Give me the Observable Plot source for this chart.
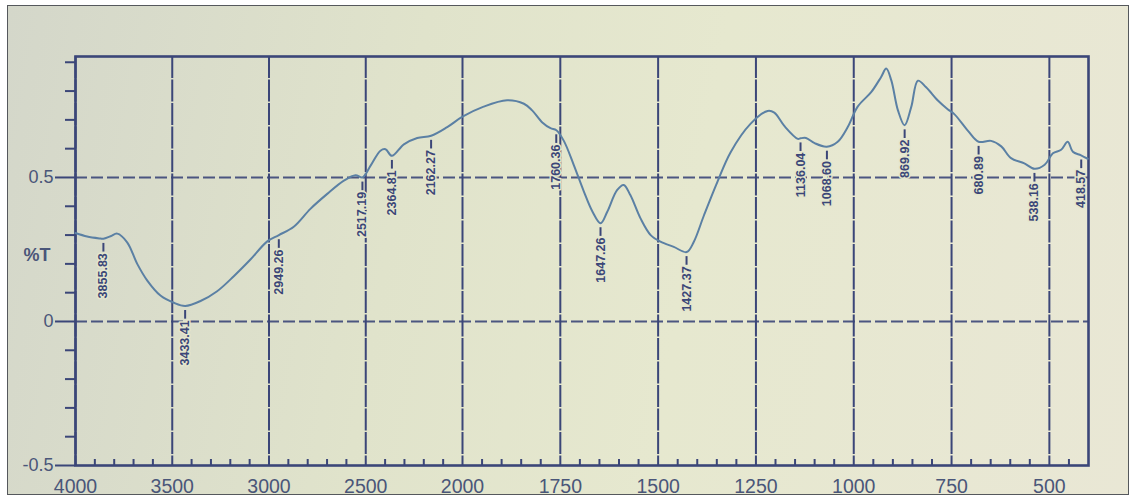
<!DOCTYPE html>
<html><head><meta charset="utf-8">
<script src="https://cdn.jsdelivr.net/npm/d3@7"></script>
<script src="https://cdn.jsdelivr.net/npm/@observablehq/plot@0.6"></script>
<style>
html,body{margin:0;padding:0;background:#fff;width:1134px;height:496px;overflow:hidden;}
#paper{position:absolute;left:7px;top:5px;width:1120px;height:488px;border:1.5px solid #55585c;
  background:linear-gradient(100deg,#d4d7ca 0%,#e0e3cb 35%,#e6e8cf 60%,#e9e7d5 100%);}
#chart{position:absolute;left:0;top:0;}
</style></head><body><div id="paper"></div><div id="chart"></div>
<script>
// Wavenumber (cm-1) and transmittance (%T)
const wavenumbers = [4000,3940,3871,3856,3819,3784,3733,3681,3629,3561,3492,3433,3354,3268,3182,3096,3009,2949,2872,2786,2699,2613,2553,2517,2475,2424,2398,2365,2303,2234,2162,2079,2000,
  1946,1886,1843,1822,1796,1775,1760,1741,1716,1690,1668,1647,1630,1605,1588,1571,1545,1519,1494,1460,1427,1409,1383,1349,1315,1264,1220,1203,1177,1143,1136,1122,1100,1069,1041,1015,
  990,955,930,917,904,887,870,853,836,815,785,760,743,708,681,649,623,598,564,538,512,491,470,453,440,419,402];
const transmittance = [0.307,0.295,0.288,0.287,0.296,0.305,0.275,0.200,0.142,0.090,0.065,0.054,0.071,0.105,0.157,0.215,0.278,0.300,0.329,0.391,0.443,0.489,0.508,0.500,0.541,0.593,0.598,0.575,0.615,0.637,0.645,0.675,0.711,
  0.746,0.768,0.756,0.733,0.691,0.671,0.664,0.627,0.545,0.452,0.382,0.341,0.381,0.456,0.474,0.439,0.358,0.300,0.277,0.259,0.241,0.276,0.368,0.483,0.587,0.686,0.731,0.725,0.678,0.634,0.636,0.637,0.619,0.607,0.624,0.676,
  0.746,0.797,0.849,0.878,0.837,0.733,0.681,0.745,0.836,0.813,0.767,0.737,0.720,0.662,0.624,0.627,0.608,0.567,0.549,0.530,0.544,0.584,0.596,0.624,0.589,0.577,0.565];
// Peak annotations
const peakWavenumbers = [3855.83,3433.41,2949.26,2517.19,2364.81,2162.27,1760.36,1647.26,1427.37,1136.04,1068.60,869.92,680.89,538.16,418.57];
const peakLabels = ["3855.83","3433.41","2949.26","2517.19","2364.81","2162.27","1760.36","1647.26","1427.37","1136.04","1068.60","869.92","680.89","538.16","418.57"];
// Axis ticks
const xTicks = [4000,3500,3000,2500,2000,1750,1500,1250,1000,750,500];
const xMinorTicks = [3900,3800,3700,3600,3400,3300,3200,3100,2900,2800,2700,2600,2400,2300,2200,2100,
  1950,1900,1850,1800,1700,1650,1600,1550,1450,1400,1350,1300,1200,1150,1100,1050,950,900,850,800,700,650,600,550,450];
const yTicks = [-0.5,0,0.5];
const yMinorTicks = [-0.4,-0.3,-0.2,-0.1,0.1,0.2,0.3,0.4,0.6,0.7,0.8,0.9];
const yGrid = [0,0.5];

const spectrum = wavenumbers.map((w,i)=>({w, t: transmittance[i]}));
function tAt(w){
  for(let i=0;i<wavenumbers.length-1;i++){
    const a=wavenumbers[i], b=wavenumbers[i+1];
    if(w<=a && w>=b){const f=(a-w)/(a-b); return transmittance[i]+f*(transmittance[i+1]-transmittance[i]);}
  }
  return transmittance[transmittance.length-1];
}
const peaks = peakWavenumbers.map((w,i)=>({w, t: tAt(w), label: peakLabels[i]}));

const ink = "#3b4678";
const textInk = "#4a5679";
const paper = "#e4e6cd";

const chart = Plot.plot({
  width: 1134, height: 496,
  marginLeft: 75, marginRight: 46, marginTop: 56, marginBottom: 31,
  style: {background: "transparent", fontFamily: "'Liberation Sans', Arial, sans-serif", overflow: "visible"},
  x: {type: "linear", domain: [4000, 2000, 400], range: [75, 462, 1088], label: null},
  y: {type: "linear", domain: [-0.5, 0.92], range: [465, 56], label: null},
  marks: [
    Plot.gridX(xTicks, {stroke: ink, strokeOpacity: 1, strokeWidth: 2, strokeDasharray: "22,1.5"}),
    Plot.gridY(yGrid, {stroke: ink, strokeOpacity: 0.9, strokeWidth: 2, strokeDasharray: "12,4"}),
    Plot.frame({stroke: ink, strokeWidth: 2.6}),
    Plot.axisX({ticks: xMinorTicks, tickSize: 6, dy: -6, tickFormat: () => "", stroke: ink, strokeWidth: 2, label: null}),
    Plot.axisX({ticks: xTicks, tickSize: 0, tickPadding: 14, fontSize: 19.5, fill: textInk, tickFormat: d => String(d), label: null}),
    Plot.axisY({ticks: yMinorTicks, tickSize: 10, tickFormat: () => "", stroke: ink, strokeWidth: 2, label: null}),
    Plot.axisY({ticks: yTicks, tickSize: 20, tickPadding: 2, fontSize: 18, fill: textInk, stroke: ink, strokeWidth: 2, tickFormat: d => String(d), label: null}),
    Plot.text(["%T"], {frameAnchor: "left", y: [0.23], dx: -25, textAnchor: "end", fontSize: 18, fontWeight: "bold", fill: textInk}),
    Plot.line(spectrum, {x: "w", y: "t", stroke: "#5b80a4", strokeWidth: 2, curve: "catmull-rom"}),
    Plot.ruleX(peaks, {x: "w", y1: d => d.t - 0.016, y2: d => d.t - 0.046, stroke: ink, strokeWidth: 2}),
    Plot.text(peaks, {x: "w", y: d => d.t - 0.05, text: "label", rotate: -90, textAnchor: "end", lineAnchor: "middle",
      fontSize: 12.5, fontWeight: "bold", fill: ink, stroke: paper, strokeWidth: 3, paintOrder: "stroke"})
  ]
});
document.getElementById("chart").appendChild(chart);
</script></body></html>
